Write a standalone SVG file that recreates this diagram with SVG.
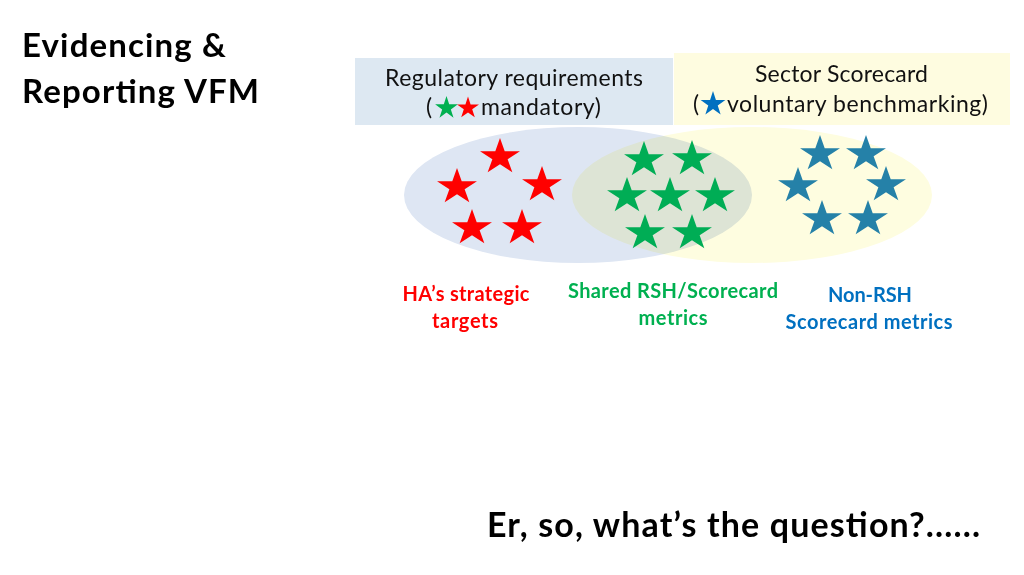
<svg xmlns="http://www.w3.org/2000/svg" width="1024" height="575" viewBox="0 0 1024 575">
<style>
.t{font-family:Lato,"Liberation Sans",sans-serif}
.title{font-size:33px;font-weight:bold;fill:#000}
.box{font-size:23px;fill:#111}
.lbl{font-size:20px;font-weight:bold;text-anchor:middle}
.red{fill:#ff0000}.grn{fill:#00b050}.blu{fill:#2581a8}.lblu{fill:#0070c0}
</style>
<defs>
<path id="star" d="M0,-21 L4.71,-6.49 L19.97,-6.49 L7.63,2.48 L12.34,16.99 L0,8.02 L-12.34,16.99 L-7.63,2.48 L-19.97,-6.49 L-4.71,-6.49 Z"/>
</defs>
<rect width="1024" height="575" fill="#fff"/>
<g id="title"><text class="t title" x="22" y="57" textLength="204">Evidencing &amp;</text><text class="t title" x="22" y="103" textLength="237">Reporting VFM</text></g>
<g id="regulatory">
<rect x="355" y="58" width="318" height="67" fill="#dde8f2"/>
<text class="t box" x="385" y="86" textLength="258">Regulatory requirements</text>
<text class="t box" x="426" y="115">(</text>
<use href="#star" transform="translate(446.5,108) scale(0.57)" fill="#00b050"/>
<use href="#star" transform="translate(468,108) scale(0.55)" fill="#ff0000"/>
<text class="t box" x="481" y="115" textLength="120">mandatory)</text>
</g>
<g id="scorecard">
<rect x="674" y="53" width="336" height="72" fill="#fefce0"/>
<text class="t box" x="755" y="82" textLength="173">Sector Scorecard</text>
<text class="t box" x="693" y="112">(</text>
<use href="#star" transform="translate(713,104) scale(0.62)" fill="#0070c0"/>
<text class="t box" x="727" y="112" textLength="261">voluntary benchmarking)</text>
</g>
<g id="ellipses">
<ellipse cx="578" cy="195" rx="174" ry="68" fill="#dee6f3"/>
<ellipse cx="752" cy="195" rx="180" ry="68" fill="#fefde0" style="mix-blend-mode:multiply"/>
</g>
<g id="red-stars" fill="#ff0000">
<use href="#star" transform="translate(500,157) scale(1,0.9)"/>
<use href="#star" transform="translate(457,187) scale(1,0.9)"/>
<use href="#star" transform="translate(542,185) scale(1,0.9)"/>
<use href="#star" transform="translate(472,228) scale(1,0.9)"/>
<use href="#star" transform="translate(522,228) scale(1,0.9)"/>
</g>
<g id="green-stars" fill="#00ad55">
<use href="#star" transform="translate(644,160) scale(1,0.9)"/>
<use href="#star" transform="translate(692,159) scale(1,0.9)"/>
<use href="#star" transform="translate(627,196) scale(1,0.9)"/>
<use href="#star" transform="translate(670,196) scale(1,0.9)"/>
<use href="#star" transform="translate(715,196) scale(1,0.9)"/>
<use href="#star" transform="translate(645,233) scale(1,0.9)"/>
<use href="#star" transform="translate(692,233) scale(1,0.9)"/>
</g>
<g id="blue-stars" fill="#2581a8">
<use href="#star" transform="translate(820,154) scale(1,0.9)"/>
<use href="#star" transform="translate(866,154) scale(1,0.9)"/>
<use href="#star" transform="translate(798,186) scale(1,0.9)"/>
<use href="#star" transform="translate(886,185) scale(1,0.9)"/>
<use href="#star" transform="translate(822,219) scale(1,0.9)"/>
<use href="#star" transform="translate(868,219) scale(1,0.9)"/>
</g>
<g id="label-ha"><text class="t lbl red" x="466" y="301" textLength="127">HA’s strategic</text><text class="t lbl red" x="465" y="328" textLength="66">targets</text></g>
<g id="label-shared"><text class="t lbl grn" x="673" y="298" textLength="210">Shared RSH/Scorecard</text><text class="t lbl grn" x="673" y="325" textLength="69">metrics</text></g>
<g id="label-nonrsh"><text class="t lbl lblu" x="870" y="302" textLength="84">Non-RSH</text><text class="t lbl lblu" x="869" y="329" textLength="167">Scorecard metrics</text></g>
<g id="question"><text class="t" x="487" y="537" font-size="34" font-weight="bold" fill="#000" textLength="493">Er, so, what’s the question?......</text></g>
</svg>
